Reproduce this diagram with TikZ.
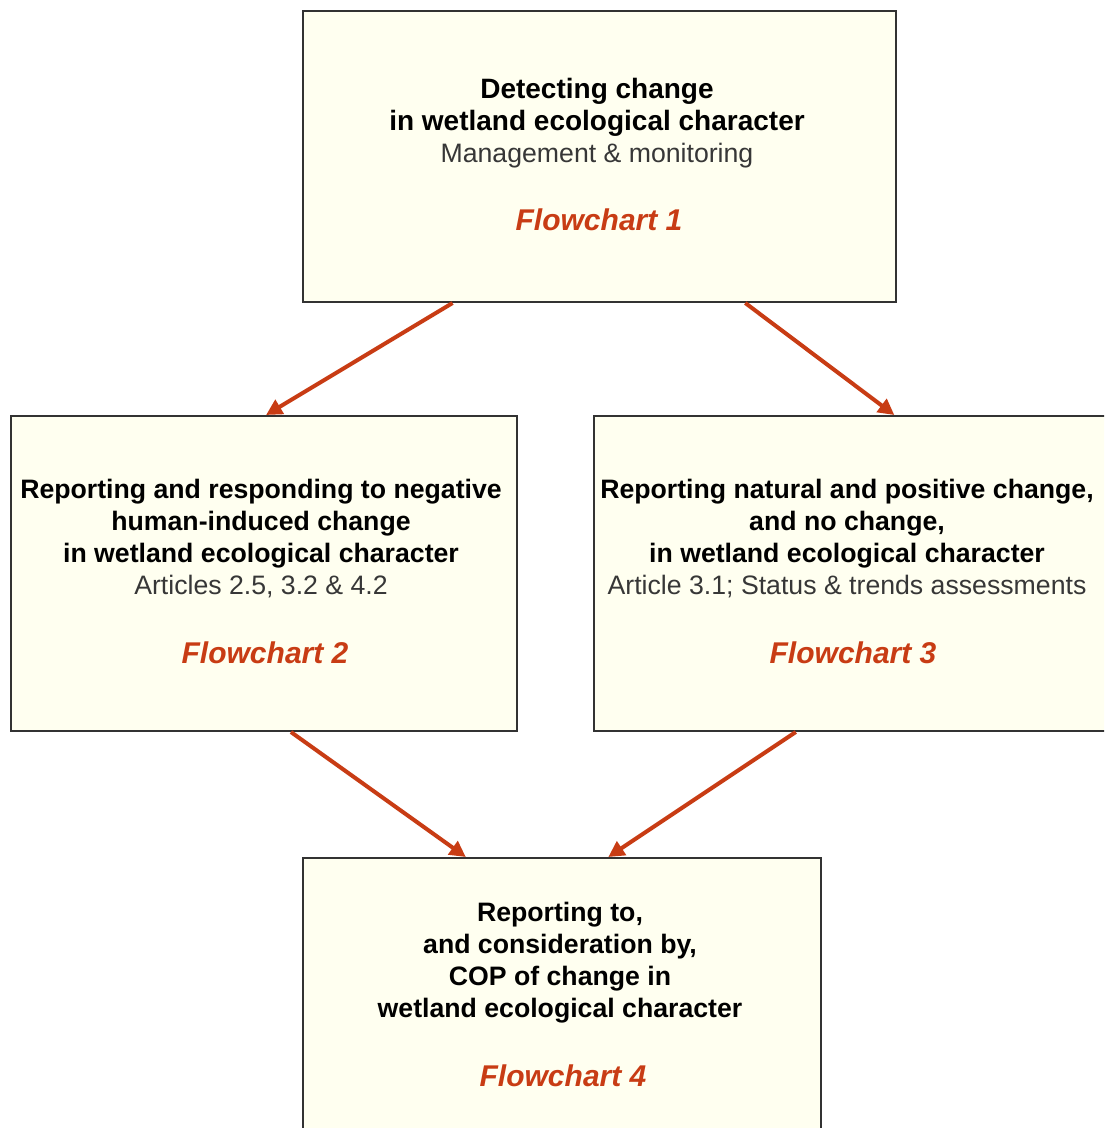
\documentclass[tikz,border=0pt]{standalone}
\usepackage{fontspec}
\setmainfont{Liberation Sans}
\usetikzlibrary{arrows.meta,calc}
\definecolor{boxfill}{RGB}{255,255,240}
\definecolor{boxline}{RGB}{50,50,50}
\definecolor{arrowred}{RGB}{200,60,20}
\definecolor{subgray}{RGB}{55,55,55}
\newcommand{\subline}[1]{{\mdseries\color{subgray}\fontsize{20}{24}\selectfont #1}}
\begin{document}
\begin{tikzpicture}[x=0.75pt,y=-0.75pt,
  box/.style={draw=boxline, fill=boxfill, line width=1.5pt, inner sep=0pt, anchor=north west},
  maintext/.style={align=center, inner sep=0pt, font=\bfseries\fontsize{21}{24}\selectfont},
  smalltext/.style={align=center, inner sep=0pt, font=\bfseries\fontsize{20}{24}\selectfont},
  fclabel/.style={inner sep=0pt, text=arrowred, font=\bfseries\itshape\fontsize{22.5}{27}\selectfont},
  conn/.style={draw=arrowred, line width=3pt, -{Triangle[length=12pt,width=12pt]}}]
\clip (0,0) rectangle (1104,1128);
\fill[white] (0,0) rectangle (1104,1128);
% boxes
\node[box, minimum width=444.75pt, minimum height=218.25pt] (b1) at (302,10) {};
\node[box, minimum width=379.5pt, minimum height=236.25pt] (b2) at (10,415) {};
\node[box, minimum width=385.5pt, minimum height=236.25pt] (b3) at (593,415) {};
\node[box, minimum width=388.5pt, minimum height=206.25pt] (b4) at (302,857) {};
% texts
\node[maintext] (t1) at (597,123.5) {Detecting change\\in wetland ecological character\\\subline{Management \& monitoring}};
\node[fclabel] (f1) at (599,220) {Flowchart 1};
\node[smalltext] (t2) at (261,538.5) {Reporting and responding to negative\\human-induced change\\in wetland ecological character\\\subline{Articles 2.5, 3.2 \& 4.2}};
\node[fclabel] (f2) at (265,653) {Flowchart 2};
\node[smalltext] (t3) at (847,538.5) {Reporting natural and positive change,\\and no change,\\in wetland ecological character\\\subline{Article 3.1; Status \& trends assessments}};
\node[fclabel] (f3) at (853,653) {Flowchart 3};
\node[smalltext] (t4) at (560,963) {Reporting to,\\and consideration by,\\COP of change in\\wetland ecological character};
\node[fclabel] (f4) at (563,1076) {Flowchart 4};
% connectors
\draw[conn] ($(b1.south west)!0.253!(b1.south east)$) -- ($(b2.north west)!0.504!(b2.north east)$);
\draw[conn] ($(b1.south west)!0.745!(b1.south east)$) -- ($(b3.north west)!0.584!(b3.north east)$);
\draw[conn] ($(b2.south west)!0.553!(b2.south east)$) -- ($(b4.north west)!0.315!(b4.north east)$);
\draw[conn] ($(b3.south west)!0.393!(b3.south east)$) -- ($(b4.north west)!0.589!(b4.north east)$);
\end{tikzpicture}
\end{document}
